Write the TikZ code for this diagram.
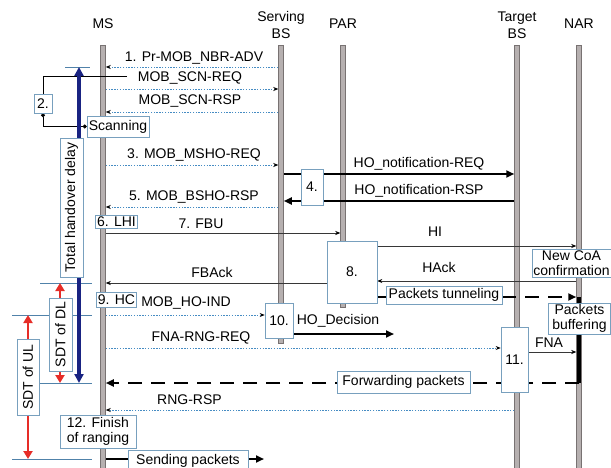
\documentclass[tikz,border=0pt]{standalone}
\usepackage{fontspec}
\setmainfont{Liberation Sans}
\usepackage{tikz}
\usetikzlibrary{arrows.meta, backgrounds, calc}
\definecolor{lifegray}{RGB}{182,176,176}
\definecolor{lifeedge}{RGB}{120,114,114}
\definecolor{boxblue}{RGB}{120,160,190}
\definecolor{dotblue}{RGB}{70,140,195}
\definecolor{msggray}{RGB}{55,55,55}
\definecolor{tickblue}{RGB}{80,130,170}
\definecolor{delayblue}{RGB}{25,35,130}
\definecolor{sdtred}{RGB}{230,45,40}
\newcommand{\lblfont}{\fontsize{14pt}{15pt}\selectfont}
\tikzset{
  lifeline/.style={rectangle, draw=lifeedge, fill=lifegray, line width=0.5pt,
    minimum width=5pt, inner sep=0pt},
  head/.style={align=center, inner sep=0pt, font=\fontsize{14pt}{17pt}\selectfont},
  lbl/.style={inner sep=1pt, font=\lblfont},
  box/.style={rectangle, draw=boxblue, fill=white, line width=0.6pt,
    inner sep=1.5pt, font=\lblfont},
  dotmsg/.style={draw=dotblue, line width=0.7pt, dash pattern=on 1.4pt off 1.4pt,
    -{Stealth[length=5pt, width=4pt, black]}},
  msg/.style={draw=msggray, line width=0.6pt, -{Stealth[length=5pt, width=4pt, black]}},
  thickline/.style={line width=2.4pt},
  thickmsg/.style={line width=2.4pt, -{Triangle[length=8pt, width=7pt]}},
  packets/.style={line width=2.4pt, dash pattern=on 14pt off 9pt,
    -{Triangle[length=8pt, width=7pt]}},
  buffering/.style={line width=4.5pt},
  tick/.style={draw=tickblue, line width=0.6pt},
  bracket/.style={line width=0.6pt, {Circle[length=4pt]}-{Circle[length=4pt]}},
  delay/.style={draw=delayblue, line width=3.5pt,
    {Triangle[length=9pt, width=9pt]}-{Triangle[length=9pt, width=9pt]}},
  sdt/.style={draw=sdtred, line width=2.5pt,
    {Triangle[length=8pt, width=9pt]}-{Triangle[length=8pt, width=9pt]}},
}

\begin{document}
\begin{tikzpicture}[x=1pt, y=-1pt]
  \useasboundingbox (0,0) rectangle (611,468);

  % Entities
  \node[head] (msh)  at (103,24) {MS};
  \node[head] (sbsh) at (281,25) {Serving\\BS};
  \node[head] (parh) at (343,24) {PAR};
  \node[head] (tbsh) at (517,25) {Target\\BS};
  \node[head] (narh) at (579,24) {NAR};

  % Lifelines
  \begin{scope}[on background layer]
    \node[lifeline, minimum height=425pt] (ms)  at (103,257.5) {};
    \node[lifeline, minimum height=298pt] (sbs) at (281,194) {};
    \node[lifeline, minimum height=262pt] (par) at (343,176) {};
    \node[lifeline, minimum height=425pt] (tbs) at (517,257.5) {};
    \node[lifeline, minimum height=425pt] (nar) at (579,257.5) {};
  \end{scope}

  % Message levels
  \foreach \n/\y in {adv/67, scnreq/89, scnrsp/112, mshoreq/165, horeq/174,
      horsp/201, bshorsp/207, fbu/233, hi/246, hack/281, fback/283, tun/297,
      hoind/315, hodec/334, fnareq/348, fna/352, fwd/383, rngrsp/410, send/459}
    \coordinate (\n) at (0,\y);
  \coordinate (scnmark) at (127,76);
  \coordinate (hodecend) at (394,334);
  \coordinate (sendend) at (264,459);
  \coordinate (thd) at (79,0);
  \coordinate (dl) at (60,0);
  \coordinate (ul) at (28,0);
  \coordinate (tickl) at (40,0);
  \coordinate (tickll) at (12,0);
  \coordinate (tickr) at (92,0);

  % Message labels
  \node[lbl] (ladv)     at (194,58)    {1. Pr-MOB\_NBR-ADV};
  \node[lbl] (lscnreq)  at (190,78)    {MOB\_SCN-REQ};
  \node[lbl] (lscnrsp)  at (190,101)   {MOB\_SCN-RSP};
  \node[lbl] (lmshoreq) at (194,155)   {3. MOB\_MSHO-REQ};
  \node[lbl] (lhoreq)   at (419,164)   {HO\_notification-REQ};
  \node[lbl] (lhorsp)   at (419,191)   {HO\_notification-RSP};
  \node[lbl] (lbshorsp) at (194,197)   {5. MOB\_BSHO-RSP};
  \node[lbl] (lfbu)     at (201,224)   {7. FBU};
  \node[lbl] (lhi)      at (435,232)   {HI};
  \node[lbl] (lhack)    at (439,267)   {HAck};
  \node[lbl] (lfback)   at (212,272)   {FBAck};
  \node[lbl] (lhoind)   at (186,303)   {MOB\_HO-IND};
  \node[lbl] (lhodec)   at (338,321)   {HO\_Decision};
  \node[lbl] (lfnareq)  at (201,338)   {FNA-RNG-REQ};
  \node[lbl] (lfna)     at (549,343)   {FNA};
  \node[lbl] (lrngrsp)  at (189.5,400) {RNG-RSP};

  % Step boxes
  \node[box, minimum width=18pt, minimum height=19pt]  (two)    at (43,103.5)  {2.};
  \node[box, minimum width=62pt, minimum height=21pt]  (scan)   at (118,126.5) {Scanning};
  \node[box, minimum width=22pt, minimum height=36pt]  (four)   at (312,187)   {4.};
  \node[box, minimum width=39pt, minimum height=13pt]  (lhi)    at (116.5,221.5) {6. LHI};
  \node[box, minimum width=50pt, minimum height=62pt]  (eight)  at (352,272)   {8.};
  \node[box, align=center, minimum width=78pt, minimum height=27pt]
                                                       (coa)    at (571.5,263.5) {New CoA\\confirmation};
  \node[box, minimum width=116pt, minimum height=18pt] (tunnel) at (444,295)   {Packets tunneling};
  \node[box, minimum width=39pt, minimum height=15pt]  (hc)     at (116.5,299.5) {9. HC};
  \node[box, align=center, minimum width=62pt, minimum height=29pt]
                                                       (buffer) at (579.5,318.5) {Packets\\buffering};
  \node[box, minimum width=28pt, minimum height=35pt]  (ten)    at (279,320.5) {10.};
  \node[box, minimum width=27pt, minimum height=65pt]  (eleven) at (514.5,359.5) {11.};
  \node[box, minimum width=133pt, minimum height=22pt] (fwdbox) at (403.5,382) {Forwarding packets};
  \node[box, align=left, minimum width=76pt, minimum height=33pt]
                                                       (finish) at (98,431.5)  {12. Finish\\of ranging};
  \node[box, minimum width=120pt, minimum height=20pt] (sendbox) at (188,460.5) {Sending packets};

  % Delay labels
  \node[box, rotate=90, minimum width=139pt, minimum height=23pt] (total) at (71.5,207.5) {Total handover delay};
  \node[box, rotate=90, minimum width=73pt, minimum height=23pt]  (sdtdl) at (60.5,334.5) {SDT of DL};
  \node[box, rotate=90, minimum width=76pt, minimum height=22pt]  (sdtul) at (28,377)     {SDT of UL};

  \begin{scope}[on background layer]
    % Scanning period
    \draw[bracket] (scnmark) -| (two) |- (scan.west);

    % Handover delays
    \draw[tick] ($(thd |- adv)+(-14,0)$) -- ($(thd |- adv)+(11,0)$);
    \draw[tick] (tickl |- fback) -- (tickr |- fback);
    \draw[tick] (tickl |- fwd) -- (tickr |- fwd);
    \draw[tick] (tickll |- hoind) -- (tickr |- hoind);
    \draw[tick] (tickll |- send) -- (tickr |- send);
    \draw[delay] (thd |- adv) -- (thd |- fwd);
    \draw[sdt] (dl |- fback) -- (dl |- fwd);
    \draw[sdt] (ul |- hoind) -- (ul |- send);

    % Messages
    \draw[dotmsg] (sbs.west |- adv) -- (ms.east |- adv);
    \draw[dotmsg] (ms.east |- scnreq) -- (sbs.west |- scnreq);
    \draw[dotmsg] (sbs.west |- scnrsp) -- (ms.east |- scnrsp);
    \draw[dotmsg] (ms.east |- mshoreq) -- (sbs.west |- mshoreq);
    \draw[thickmsg] (sbs.east |- horeq) -- (tbs.west |- horeq);
    \draw[thickmsg] (tbs.west |- horsp) -- (sbs.east |- horsp);
    \draw[dotmsg] (sbs.west |- bshorsp) -- (ms.east |- bshorsp);
    \draw[msg] (ms.east |- fbu) -- (par.west |- fbu);
    \draw[msg] (eight.east |- hi) -- (nar.west |- hi);
    \draw[msg] (nar.west |- hack) -- (eight.east |- hack);
    \draw[msg] (eight.west |- fback) -- (ms.east |- fback);
    \draw[thickline] (eight.east |- tun) -- (tunnel.west |- tun);
    \draw[buffering] (nar.center |- tun) -- (nar.center |- fwd);
    \draw[packets] (tunnel.east |- tun) -- (nar.west |- tun);
    \draw[dotmsg] (ms.east |- hoind) -- (ten.west |- hoind);
    \draw[thickmsg] (ten.east |- hodec) -- (hodecend);
    \draw[dotmsg] (ms.east |- fnareq) -- (eleven.west |- fnareq);
    \draw[msg] (eleven.east |- fna) -- (nar.west |- fna);
    \draw[packets] (nar.center |- fwd) -- (ms.east |- fwd);
    \draw[dotmsg] (tbs.west |- rngrsp) -- (ms.east |- rngrsp);
    \draw[thickline] (ms.east |- send) -- (sendbox.west |- send);
    \draw[thickmsg] (sendbox.east |- send) -- (sendend);
  \end{scope}
\end{tikzpicture}
\end{document}
